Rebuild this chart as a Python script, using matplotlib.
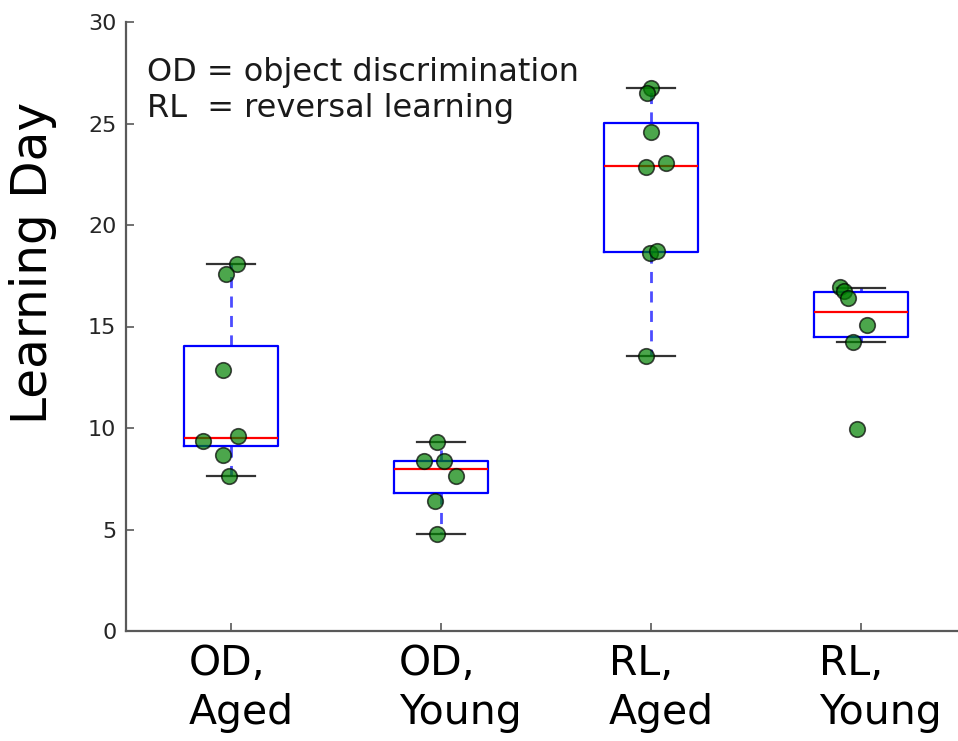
import numpy as np
import matplotlib
matplotlib.use("Agg")
from matplotlib import pyplot as plt
from matplotlib.transforms import ScaledTranslation

# group labels
groups = ["OD,\nAged", "OD,\nYoung", "RL,\nAged", "RL,\nYoung"]

# box stats
med = [9.5, 7.98, 22.92, 15.73]
q1 = [9.11, 6.78, 18.69, 14.47]
q3 = [14.04, 8.39, 25.04, 16.72]
whislo = [7.64, 4.76, 13.56, 14.25]
whishi = [18.08, 9.31, 26.73, 16.88]

# individual animals (x jitter, value)
od_aged_x = [1.03, 0.976, 0.962, 0.867, 1.033, 0.962, 0.99]
od_aged_y = [18.08, 17.6, 12.86, 9.36, 9.6, 8.67, 7.64]
od_young_x = [1.98, 1.92, 2.016, 2.07, 1.97, 1.98]
od_young_y = [9.31, 8.39, 8.37, 7.63, 6.4, 4.78]
rl_aged_x = [3.0, 2.98, 3.0, 2.976, 3.07, 2.995, 3.03, 2.976]
rl_aged_y = [26.75, 26.49, 24.58, 22.84, 23.04, 18.64, 18.73, 13.56]
rl_young_x = [3.9, 3.92, 3.94, 4.03, 3.96, 3.98]
rl_young_y = [16.93, 16.76, 16.39, 15.07, 14.25, 9.95]

fig = plt.figure(figsize=(9.58, 7.41), dpi=100)
ax = fig.add_axes([126 / 958, 110 / 741, 840 / 958, 609 / 741])

stats = []
for i in range(4):
    stats.append(dict(med=med[i], q1=q1[i], q3=q3[i],
                      whislo=whislo[i], whishi=whishi[i], fliers=[]))

ax.bxp(stats, positions=[1, 2, 3, 4], widths=0.45, showfliers=False,
       boxprops=dict(color="b", lw=1.6),
       medianprops=dict(color="r", lw=1.6),
       whiskerprops=dict(color="b", lw=2, alpha=0.7, ls=(0, (4, 3))),
       capprops=dict(color="k", lw=1.6, alpha=0.8))

for xs, ys in [(od_aged_x, od_aged_y), (od_young_x, od_young_y),
               (rl_aged_x, rl_aged_y), (rl_young_x, rl_young_y)]:
    ax.scatter(xs, ys, s=125, c="g", alpha=0.7, edgecolors="k",
               linewidths=1.2, zorder=3)

ax.set_xlim(0.5, 4.5)
ax.set_ylim(0, 30)
ax.set_yticks([0, 5, 10, 15, 20, 25, 30])
ax.set_xticks([1, 2, 3, 4])
ax.set_xticklabels([])

# group labels hang left-aligned a bit left of each tick
off = ScaledTranslation(-42 / 100, -13 / 100, fig.dpi_scale_trans)
for pos, lab in zip([1, 2, 3, 4], groups):
    ax.text(pos, 0, lab, transform=ax.get_xaxis_transform() + off,
            ha="left", va="top", fontsize=29.5, linespacing=1.3,
            clip_on=False)

ax.tick_params(axis="y", labelsize=16, direction="in", length=6,
               width=1.2, color="0.35", pad=7, labelcolor="0.15")
ax.tick_params(axis="x", direction="in", length=6, width=1.2,
               color="0.35")

for side in ["top", "right"]:
    ax.spines[side].set_visible(False)
for side in ["left", "bottom"]:
    ax.spines[side].set_color("0.35")
    ax.spines[side].set_linewidth(1.6)

ax.set_ylabel("Learning Day", fontsize=35)
ax.yaxis.set_label_coords(-69 / 840, 0.604)

fig.text(147 / 958, 1 - 57 / 741,
         "OD = object discrimination\nRL  = reversal learning",
         fontsize=23, va="top", ha="left", color="0.1")

fig.savefig("out.png", dpi=100)
